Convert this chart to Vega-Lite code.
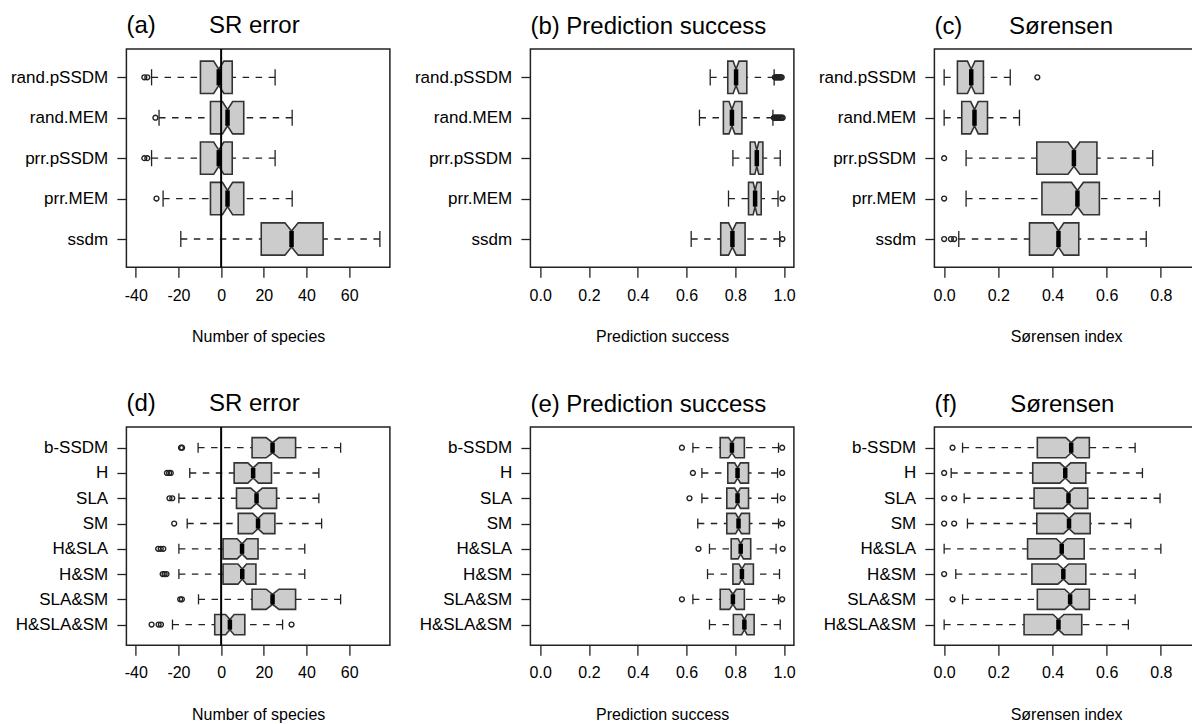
{
"$schema": "https://vega.github.io/schema/vega-lite/v6.json",
"background": "white",
"padding": {"left": 9.4, "top": 13, "right": -6, "bottom": 0},
"columns": 3,
"spacing": {"row": 159, "column": 140},
"bounds": "flush",
"datasets": {
"boxes": [
{"panel":"a","name":"rand.pSSDM","idx":5,"lo":-32.6,"q1":-9.7,"nlo":-3.5,"med":-1.1,"nhi":1.3,"q3":5.2,"hi":25.3},
{"panel":"a","name":"rand.MEM","idx":4,"lo":-29.1,"q1":-5.0,"nlo":0.6,"med":3.0,"nhi":5.4,"q3":10.6,"hi":33.3},
{"panel":"a","name":"prr.pSSDM","idx":3,"lo":-32.6,"q1":-9.7,"nlo":-3.5,"med":-1.1,"nhi":1.3,"q3":5.2,"hi":25.3},
{"panel":"a","name":"prr.MEM","idx":2,"lo":-27.2,"q1":-5.0,"nlo":0.6,"med":3.0,"nhi":5.4,"q3":10.6,"hi":33.3},
{"panel":"a","name":"ssdm","idx":1,"lo":-18.9,"q1":18.8,"nlo":29.9,"med":33.0,"nhi":36.1,"q3":47.8,"hi":74.4},
{"panel":"b","name":"rand.pSSDM","idx":5,"lo":0.697,"q1":0.769,"nlo":0.791,"med":0.803,"nhi":0.815,"q3":0.847,"hi":0.959},
{"panel":"b","name":"rand.MEM","idx":4,"lo":0.653,"q1":0.751,"nlo":0.774,"med":0.786,"nhi":0.798,"q3":0.827,"hi":0.954},
{"panel":"b","name":"prr.pSSDM","idx":3,"lo":0.790,"q1":0.861,"nlo":0.880,"med":0.888,"nhi":0.896,"q3":0.913,"hi":0.984},
{"panel":"b","name":"prr.MEM","idx":2,"lo":0.772,"q1":0.854,"nlo":0.873,"med":0.881,"nhi":0.889,"q3":0.906,"hi":0.975},
{"panel":"b","name":"ssdm","idx":1,"lo":0.619,"q1":0.740,"nlo":0.772,"med":0.788,"nhi":0.804,"q3":0.840,"hi":0.982},
{"panel":"c","name":"rand.pSSDM","idx":5,"lo":0.0,"q1":0.049,"nlo":0.086,"med":0.100,"nhi":0.114,"q3":0.145,"hi":0.244},
{"panel":"c","name":"rand.MEM","idx":4,"lo":0.0,"q1":0.065,"nlo":0.098,"med":0.112,"nhi":0.126,"q3":0.160,"hi":0.278},
{"panel":"c","name":"prr.pSSDM","idx":3,"lo":0.081,"q1":0.342,"nlo":0.457,"med":0.479,"nhi":0.501,"q3":0.564,"hi":0.770},
{"panel":"c","name":"prr.MEM","idx":2,"lo":0.081,"q1":0.361,"nlo":0.470,"med":0.492,"nhi":0.514,"q3":0.573,"hi":0.795},
{"panel":"c","name":"ssdm","idx":1,"lo":0.054,"q1":0.315,"nlo":0.402,"med":0.422,"nhi":0.442,"q3":0.497,"hi":0.746},
{"panel":"d","name":"b-SSDM","idx":8,"lo":-10.8,"q1":14.5,"nlo":21.1,"med":24.1,"nhi":27.1,"q3":34.9,"hi":56.0},
{"panel":"d","name":"H","idx":7,"lo":-14.7,"q1":6.1,"nlo":12.5,"med":15.0,"nhi":17.5,"q3":23.6,"hi":45.8},
{"panel":"d","name":"SLA","idx":6,"lo":-19.8,"q1":7.2,"nlo":13.9,"med":16.6,"nhi":19.3,"q3":26.0,"hi":45.8},
{"panel":"d","name":"SM","idx":5,"lo":-15.9,"q1":8.0,"nlo":14.8,"med":17.3,"nhi":19.8,"q3":25.2,"hi":47.1},
{"panel":"d","name":"H&SLA","idx":4,"lo":-19.8,"q1":0.9,"nlo":7.5,"med":9.8,"nhi":12.1,"q3":17.3,"hi":39.2},
{"panel":"d","name":"H&SM","idx":3,"lo":-19.8,"q1":0.9,"nlo":7.9,"med":9.9,"nhi":11.9,"q3":16.3,"hi":39.2},
{"panel":"d","name":"SLA&SM","idx":2,"lo":-10.6,"q1":14.5,"nlo":21.1,"med":24.1,"nhi":27.1,"q3":34.9,"hi":56.0},
{"panel":"d","name":"H&SLA&SM","idx":1,"lo":-22.8,"q1":-3.0,"nlo":2.1,"med":4.1,"nhi":6.1,"q3":11.1,"hi":28.8},
{"panel":"e","name":"b-SSDM","idx":8,"lo":0.626,"q1":0.738,"nlo":0.772,"med":0.786,"nhi":0.800,"q3":0.837,"hi":0.977},
{"panel":"e","name":"H","idx":7,"lo":0.663,"q1":0.769,"nlo":0.797,"med":0.809,"nhi":0.821,"q3":0.854,"hi":0.973},
{"panel":"e","name":"SLA","idx":6,"lo":0.663,"q1":0.765,"nlo":0.797,"med":0.809,"nhi":0.821,"q3":0.854,"hi":0.973},
{"panel":"e","name":"SM","idx":5,"lo":0.646,"q1":0.765,"nlo":0.801,"med":0.813,"nhi":0.825,"q3":0.858,"hi":0.977},
{"panel":"e","name":"H&SLA","idx":4,"lo":0.694,"q1":0.783,"nlo":0.811,"med":0.822,"nhi":0.833,"q3":0.863,"hi":0.967},
{"panel":"e","name":"H&SM","idx":3,"lo":0.686,"q1":0.790,"nlo":0.815,"med":0.827,"nhi":0.839,"q3":0.874,"hi":0.981},
{"panel":"e","name":"SLA&SM","idx":2,"lo":0.626,"q1":0.738,"nlo":0.776,"med":0.790,"nhi":0.804,"q3":0.837,"hi":0.977},
{"panel":"e","name":"H&SLA&SM","idx":1,"lo":0.694,"q1":0.792,"nlo":0.826,"med":0.837,"nhi":0.848,"q3":0.877,"hi":0.984},
{"panel":"f","name":"b-SSDM","idx":8,"lo":0.068,"q1":0.344,"nlo":0.449,"med":0.469,"nhi":0.489,"q3":0.536,"hi":0.705},
{"panel":"f","name":"H","idx":7,"lo":0.026,"q1":0.327,"nlo":0.427,"med":0.447,"nhi":0.467,"q3":0.523,"hi":0.732},
{"panel":"f","name":"SLA","idx":6,"lo":0.074,"q1":0.332,"nlo":0.439,"med":0.459,"nhi":0.479,"q3":0.530,"hi":0.797},
{"panel":"f","name":"SM","idx":5,"lo":0.086,"q1":0.342,"nlo":0.441,"med":0.461,"nhi":0.481,"q3":0.539,"hi":0.689},
{"panel":"f","name":"H&SLA","idx":4,"lo":0.0,"q1":0.308,"nlo":0.414,"med":0.434,"nhi":0.454,"q3":0.517,"hi":0.800},
{"panel":"f","name":"H&SM","idx":3,"lo":0.043,"q1":0.324,"nlo":0.420,"med":0.440,"nhi":0.460,"q3":0.523,"hi":0.705},
{"panel":"f","name":"SLA&SM","idx":2,"lo":0.068,"q1":0.344,"nlo":0.445,"med":0.465,"nhi":0.485,"q3":0.536,"hi":0.705},
{"panel":"f","name":"H&SLA&SM","idx":1,"lo":0.0,"q1":0.295,"nlo":0.402,"med":0.422,"nhi":0.442,"q3":0.508,"hi":0.680}
],
"outliers": [
{"panel":"a","idx":5,"v":-36.0},{"panel":"a","idx":5,"v":-34.6},{"panel":"a","idx":4,"v":-30.8},
{"panel":"a","idx":3,"v":-36.0},{"panel":"a","idx":3,"v":-34.6},{"panel":"a","idx":2,"v":-30.3},
{"panel":"b","idx":5,"v":0.962},{"panel":"b","idx":5,"v":0.966},{"panel":"b","idx":5,"v":0.970},{"panel":"b","idx":5,"v":0.974},{"panel":"b","idx":5,"v":0.978},{"panel":"b","idx":5,"v":0.982},{"panel":"b","idx":5,"v":0.986},{"panel":"b","idx":5,"v":0.990},
{"panel":"b","idx":4,"v":0.958},{"panel":"b","idx":4,"v":0.962},{"panel":"b","idx":4,"v":0.966},{"panel":"b","idx":4,"v":0.970},{"panel":"b","idx":4,"v":0.974},{"panel":"b","idx":4,"v":0.978},{"panel":"b","idx":4,"v":0.982},{"panel":"b","idx":4,"v":0.986},{"panel":"b","idx":4,"v":0.990},{"panel":"b","idx":4,"v":0.994},
{"panel":"b","idx":2,"v":0.993},{"panel":"b","idx":1,"v":0.993},
{"panel":"c","idx":5,"v":0.344},{"panel":"c","idx":3,"v":0.0},{"panel":"c","idx":2,"v":0.0},
{"panel":"c","idx":1,"v":0.0},{"panel":"c","idx":1,"v":0.025},{"panel":"c","idx":1,"v":0.037},
{"panel":"d","idx":8,"v":-18.8},{"panel":"d","idx":8,"v":-18.3},
{"panel":"d","idx":7,"v":-25.4},{"panel":"d","idx":7,"v":-24.4},{"panel":"d","idx":7,"v":-23.6},
{"panel":"d","idx":6,"v":-24.2},{"panel":"d","idx":6,"v":-22.9},
{"panel":"d","idx":5,"v":-22.0},
{"panel":"d","idx":4,"v":-29.5},{"panel":"d","idx":4,"v":-28.3},{"panel":"d","idx":4,"v":-27.1},
{"panel":"d","idx":3,"v":-27.4},{"panel":"d","idx":3,"v":-26.5},{"panel":"d","idx":3,"v":-25.6},
{"panel":"d","idx":2,"v":-19.2},{"panel":"d","idx":2,"v":-18.4},
{"panel":"d","idx":1,"v":-32.6},{"panel":"d","idx":1,"v":-29.3},{"panel":"d","idx":1,"v":-28.2},{"panel":"d","idx":1,"v":33.0},
{"panel":"e","idx":8,"v":0.581},{"panel":"e","idx":8,"v":0.992},
{"panel":"e","idx":7,"v":0.626},{"panel":"e","idx":7,"v":0.992},
{"panel":"e","idx":6,"v":0.612},{"panel":"e","idx":6,"v":0.994},
{"panel":"e","idx":5,"v":0.992},
{"panel":"e","idx":4,"v":0.649},{"panel":"e","idx":4,"v":0.994},
{"panel":"e","idx":2,"v":0.581},{"panel":"e","idx":2,"v":0.992},
{"panel":"f","idx":8,"v":0.031},{"panel":"f","idx":7,"v":0.0},
{"panel":"f","idx":6,"v":0.0},{"panel":"f","idx":6,"v":0.037},
{"panel":"f","idx":5,"v":0.0},{"panel":"f","idx":5,"v":0.037},
{"panel":"f","idx":3,"v":0.0},{"panel":"f","idx":2,"v":0.031}
]
},
"concat": [
{
"width": 263.5, "height": 218.3,
"title": {"text": "(a)\u00a0\u00a0\u00a0\u00a0\u00a0\u00a0\u00a0\u00a0SR error"},
"data": {"name": "boxes"},
"transform": [{"filter": "datum.panel == 'a'"}, {"calculate": "datum.idx - 0.2", "as": "ya"}, {"calculate": "datum.idx + 0.2", "as": "yb"}],
"layer": [
{"mark": {"type": "rule", "color": "#222", "strokeWidth": 1.3, "strokeDash": [6.5, 6.5]},
 "encoding": {
  "x": {"field": "lo", "type": "quantitative", "scale": {"domain": [-44.4, 79.1], "nice": false, "zero": false}, "axis": {"values": [-40, -20, 0, 20, 40, 60], "tickCount": 20, "labelExpr": "'' + datum.value", "title": "Number of species"}},
  "x2": {"field": "q1"},
  "y": {"field": "idx", "type": "quantitative", "scale": {"domain": [0.3, 5.7], "nice": false, "zero": false}, "axis": {"values": [1, 2, 3, 4, 5], "tickCount": 20, "labelExpr": "['','ssdm','prr.MEM','prr.pSSDM','rand.MEM','rand.pSSDM'][datum.value]", "title": null}}}},
{"mark": {"type": "rule", "color": "#222", "strokeWidth": 1.3, "strokeDash": [6.5, 6.5]},
 "encoding": {"x": {"field": "hi", "type": "quantitative"}, "x2": {"field": "q3"}, "y": {"field": "idx", "type": "quantitative"}}},
{"mark": {"type": "rule", "color": "#222", "strokeWidth": 1.3},
 "encoding": {"x": {"field": "lo", "type": "quantitative"}, "y": {"field": "ya", "type": "quantitative"}, "y2": {"field": "yb"}}},
{"mark": {"type": "rule", "color": "#222", "strokeWidth": 1.3},
 "encoding": {"x": {"field": "hi", "type": "quantitative"}, "y": {"field": "ya", "type": "quantitative"}, "y2": {"field": "yb"}}},
{"transform": [{"fold": ["q1", "nlo", "med", "nhi", "q3"], "as": ["stat", "val"]}, {"calculate": "datum.stat == 'med' ? datum.idx + 0.2 : datum.idx + 0.4", "as": "ytop"}, {"calculate": "datum.stat == 'med' ? datum.idx - 0.2 : datum.idx - 0.4", "as": "ybot"}],
 "mark": {"type": "area", "orient": "vertical", "fill": "#cccccc", "stroke": "#333333", "strokeWidth": 1.6},
 "encoding": {"x": {"field": "val", "type": "quantitative"}, "y": {"field": "ytop", "type": "quantitative"}, "y2": {"field": "ybot"}, "detail": {"field": "name"}}},
{"mark": {"type": "rule", "color": "#000", "strokeWidth": 4.5},
 "encoding": {"x": {"field": "med", "type": "quantitative"}, "y": {"field": "ya", "type": "quantitative"}, "y2": {"field": "yb"}}},
{"data": {"name": "outliers"}, "transform": [{"filter": "datum.panel == 'a'"}],
 "mark": {"type": "point", "shape": "circle", "filled": false, "size": 24, "stroke": "#222", "strokeWidth": 1.35, "opacity": 1},
 "encoding": {"x": {"field": "v", "type": "quantitative"}, "y": {"field": "idx", "type": "quantitative"}}},
{"data": {"values": [{}]}, "mark": {"type": "rule", "color": "#000", "strokeWidth": 2}, "encoding": {"x": {"datum": 0}}}
]
},
{
"width": 263.5, "height": 218.3,
"title": {"text": "(b) Prediction success"},
"data": {"name": "boxes"},
"transform": [{"filter": "datum.panel == 'b'"}, {"calculate": "datum.idx - 0.2", "as": "ya"}, {"calculate": "datum.idx + 0.2", "as": "yb"}],
"layer": [
{"mark": {"type": "rule", "color": "#222", "strokeWidth": 1.3, "strokeDash": [6.5, 6.5]},
 "encoding": {
  "x": {"field": "lo", "type": "quantitative", "scale": {"domain": [-0.04, 1.04], "nice": false, "zero": false}, "axis": {"values": [0, 0.2, 0.4, 0.6, 0.8, 1.0], "tickCount": 20, "labelExpr": "format(datum.value, '.1f')", "title": "Prediction success"}},
  "x2": {"field": "q1"},
  "y": {"field": "idx", "type": "quantitative", "scale": {"domain": [0.3, 5.7], "nice": false, "zero": false}, "axis": {"values": [1, 2, 3, 4, 5], "tickCount": 20, "labelExpr": "['','ssdm','prr.MEM','prr.pSSDM','rand.MEM','rand.pSSDM'][datum.value]", "title": null}}}},
{"mark": {"type": "rule", "color": "#222", "strokeWidth": 1.3, "strokeDash": [6.5, 6.5]},
 "encoding": {"x": {"field": "hi", "type": "quantitative"}, "x2": {"field": "q3"}, "y": {"field": "idx", "type": "quantitative"}}},
{"mark": {"type": "rule", "color": "#222", "strokeWidth": 1.3},
 "encoding": {"x": {"field": "lo", "type": "quantitative"}, "y": {"field": "ya", "type": "quantitative"}, "y2": {"field": "yb"}}},
{"mark": {"type": "rule", "color": "#222", "strokeWidth": 1.3},
 "encoding": {"x": {"field": "hi", "type": "quantitative"}, "y": {"field": "ya", "type": "quantitative"}, "y2": {"field": "yb"}}},
{"transform": [{"fold": ["q1", "nlo", "med", "nhi", "q3"], "as": ["stat", "val"]}, {"calculate": "datum.stat == 'med' ? datum.idx + 0.2 : datum.idx + 0.4", "as": "ytop"}, {"calculate": "datum.stat == 'med' ? datum.idx - 0.2 : datum.idx - 0.4", "as": "ybot"}],
 "mark": {"type": "area", "orient": "vertical", "fill": "#cccccc", "stroke": "#333333", "strokeWidth": 1.6},
 "encoding": {"x": {"field": "val", "type": "quantitative"}, "y": {"field": "ytop", "type": "quantitative"}, "y2": {"field": "ybot"}, "detail": {"field": "name"}}},
{"mark": {"type": "rule", "color": "#000", "strokeWidth": 4.5},
 "encoding": {"x": {"field": "med", "type": "quantitative"}, "y": {"field": "ya", "type": "quantitative"}, "y2": {"field": "yb"}}},
{"data": {"name": "outliers"}, "transform": [{"filter": "datum.panel == 'b'"}],
 "mark": {"type": "point", "shape": "circle", "filled": false, "size": 24, "stroke": "#222", "strokeWidth": 1.35, "opacity": 1},
 "encoding": {"x": {"field": "v", "type": "quantitative"}, "y": {"field": "idx", "type": "quantitative"}}}
]
},
{
"width": 263.5, "height": 218.3,
"title": {"text": "(c)\u00a0\u00a0\u00a0\u00a0\u00a0\u00a0\u00a0Sørensen"},
"data": {"name": "boxes"},
"transform": [{"filter": "datum.panel == 'c'"}, {"calculate": "datum.idx - 0.2", "as": "ya"}, {"calculate": "datum.idx + 0.2", "as": "yb"}],
"layer": [
{"mark": {"type": "rule", "color": "#222", "strokeWidth": 1.3, "strokeDash": [6.5, 6.5]},
 "encoding": {
  "x": {"field": "lo", "type": "quantitative", "scale": {"domain": [-0.036, 0.9367], "nice": false, "zero": false}, "axis": {"values": [0, 0.2, 0.4, 0.6, 0.8], "tickCount": 20, "labelExpr": "format(datum.value, '.1f')", "title": "Sørensen index"}},
  "x2": {"field": "q1"},
  "y": {"field": "idx", "type": "quantitative", "scale": {"domain": [0.3, 5.7], "nice": false, "zero": false}, "axis": {"values": [1, 2, 3, 4, 5], "tickCount": 20, "labelExpr": "['','ssdm','prr.MEM','prr.pSSDM','rand.MEM','rand.pSSDM'][datum.value]", "title": null}}}},
{"mark": {"type": "rule", "color": "#222", "strokeWidth": 1.3, "strokeDash": [6.5, 6.5]},
 "encoding": {"x": {"field": "hi", "type": "quantitative"}, "x2": {"field": "q3"}, "y": {"field": "idx", "type": "quantitative"}}},
{"mark": {"type": "rule", "color": "#222", "strokeWidth": 1.3},
 "encoding": {"x": {"field": "lo", "type": "quantitative"}, "y": {"field": "ya", "type": "quantitative"}, "y2": {"field": "yb"}}},
{"mark": {"type": "rule", "color": "#222", "strokeWidth": 1.3},
 "encoding": {"x": {"field": "hi", "type": "quantitative"}, "y": {"field": "ya", "type": "quantitative"}, "y2": {"field": "yb"}}},
{"transform": [{"fold": ["q1", "nlo", "med", "nhi", "q3"], "as": ["stat", "val"]}, {"calculate": "datum.stat == 'med' ? datum.idx + 0.2 : datum.idx + 0.4", "as": "ytop"}, {"calculate": "datum.stat == 'med' ? datum.idx - 0.2 : datum.idx - 0.4", "as": "ybot"}],
 "mark": {"type": "area", "orient": "vertical", "fill": "#cccccc", "stroke": "#333333", "strokeWidth": 1.6},
 "encoding": {"x": {"field": "val", "type": "quantitative"}, "y": {"field": "ytop", "type": "quantitative"}, "y2": {"field": "ybot"}, "detail": {"field": "name"}}},
{"mark": {"type": "rule", "color": "#000", "strokeWidth": 4.5},
 "encoding": {"x": {"field": "med", "type": "quantitative"}, "y": {"field": "ya", "type": "quantitative"}, "y2": {"field": "yb"}}},
{"data": {"name": "outliers"}, "transform": [{"filter": "datum.panel == 'c'"}],
 "mark": {"type": "point", "shape": "circle", "filled": false, "size": 24, "stroke": "#222", "strokeWidth": 1.35, "opacity": 1},
 "encoding": {"x": {"field": "v", "type": "quantitative"}, "y": {"field": "idx", "type": "quantitative"}}}
]
},
{
"width": 263.5, "height": 218.3,
"title": {"text": "(d)\u00a0\u00a0\u00a0\u00a0\u00a0\u00a0\u00a0\u00a0SR error"},
"data": {"name": "boxes"},
"transform": [{"filter": "datum.panel == 'd'"}, {"calculate": "datum.idx - 0.2", "as": "ya"}, {"calculate": "datum.idx + 0.2", "as": "yb"}],
"layer": [
{"mark": {"type": "rule", "color": "#222", "strokeWidth": 1.3, "strokeDash": [6.5, 6.5]},
 "encoding": {
  "x": {"field": "lo", "type": "quantitative", "scale": {"domain": [-44.4, 79.1], "nice": false, "zero": false}, "axis": {"values": [-40, -20, 0, 20, 40, 60], "tickCount": 20, "labelExpr": "'' + datum.value", "title": "Number of species"}},
  "x2": {"field": "q1"},
  "y": {"field": "idx", "type": "quantitative", "scale": {"domain": [0.18, 8.82], "nice": false, "zero": false}, "axis": {"values": [1, 2, 3, 4, 5, 6, 7, 8], "tickCount": 20, "labelExpr": "['','H&SLA&SM','SLA&SM','H&SM','H&SLA','SM','SLA','H','b-SSDM'][datum.value]", "title": null}}}},
{"mark": {"type": "rule", "color": "#222", "strokeWidth": 1.3, "strokeDash": [6.5, 6.5]},
 "encoding": {"x": {"field": "hi", "type": "quantitative"}, "x2": {"field": "q3"}, "y": {"field": "idx", "type": "quantitative"}}},
{"mark": {"type": "rule", "color": "#222", "strokeWidth": 1.3},
 "encoding": {"x": {"field": "lo", "type": "quantitative"}, "y": {"field": "ya", "type": "quantitative"}, "y2": {"field": "yb"}}},
{"mark": {"type": "rule", "color": "#222", "strokeWidth": 1.3},
 "encoding": {"x": {"field": "hi", "type": "quantitative"}, "y": {"field": "ya", "type": "quantitative"}, "y2": {"field": "yb"}}},
{"transform": [{"fold": ["q1", "nlo", "med", "nhi", "q3"], "as": ["stat", "val"]}, {"calculate": "datum.stat == 'med' ? datum.idx + 0.2 : datum.idx + 0.4", "as": "ytop"}, {"calculate": "datum.stat == 'med' ? datum.idx - 0.2 : datum.idx - 0.4", "as": "ybot"}],
 "mark": {"type": "area", "orient": "vertical", "fill": "#cccccc", "stroke": "#333333", "strokeWidth": 1.6},
 "encoding": {"x": {"field": "val", "type": "quantitative"}, "y": {"field": "ytop", "type": "quantitative"}, "y2": {"field": "ybot"}, "detail": {"field": "name"}}},
{"mark": {"type": "rule", "color": "#000", "strokeWidth": 4.5},
 "encoding": {"x": {"field": "med", "type": "quantitative"}, "y": {"field": "ya", "type": "quantitative"}, "y2": {"field": "yb"}}},
{"data": {"name": "outliers"}, "transform": [{"filter": "datum.panel == 'd'"}],
 "mark": {"type": "point", "shape": "circle", "filled": false, "size": 24, "stroke": "#222", "strokeWidth": 1.35, "opacity": 1},
 "encoding": {"x": {"field": "v", "type": "quantitative"}, "y": {"field": "idx", "type": "quantitative"}}},
{"data": {"values": [{}]}, "mark": {"type": "rule", "color": "#000", "strokeWidth": 2}, "encoding": {"x": {"datum": 0}}}
]
},
{
"width": 263.5, "height": 218.3,
"title": {"text": "(e) Prediction success"},
"data": {"name": "boxes"},
"transform": [{"filter": "datum.panel == 'e'"}, {"calculate": "datum.idx - 0.2", "as": "ya"}, {"calculate": "datum.idx + 0.2", "as": "yb"}],
"layer": [
{"mark": {"type": "rule", "color": "#222", "strokeWidth": 1.3, "strokeDash": [6.5, 6.5]},
 "encoding": {
  "x": {"field": "lo", "type": "quantitative", "scale": {"domain": [-0.04, 1.04], "nice": false, "zero": false}, "axis": {"values": [0, 0.2, 0.4, 0.6, 0.8, 1.0], "tickCount": 20, "labelExpr": "format(datum.value, '.1f')", "title": "Prediction success"}},
  "x2": {"field": "q1"},
  "y": {"field": "idx", "type": "quantitative", "scale": {"domain": [0.18, 8.82], "nice": false, "zero": false}, "axis": {"values": [1, 2, 3, 4, 5, 6, 7, 8], "tickCount": 20, "labelExpr": "['','H&SLA&SM','SLA&SM','H&SM','H&SLA','SM','SLA','H','b-SSDM'][datum.value]", "title": null}}}},
{"mark": {"type": "rule", "color": "#222", "strokeWidth": 1.3, "strokeDash": [6.5, 6.5]},
 "encoding": {"x": {"field": "hi", "type": "quantitative"}, "x2": {"field": "q3"}, "y": {"field": "idx", "type": "quantitative"}}},
{"mark": {"type": "rule", "color": "#222", "strokeWidth": 1.3},
 "encoding": {"x": {"field": "lo", "type": "quantitative"}, "y": {"field": "ya", "type": "quantitative"}, "y2": {"field": "yb"}}},
{"mark": {"type": "rule", "color": "#222", "strokeWidth": 1.3},
 "encoding": {"x": {"field": "hi", "type": "quantitative"}, "y": {"field": "ya", "type": "quantitative"}, "y2": {"field": "yb"}}},
{"transform": [{"fold": ["q1", "nlo", "med", "nhi", "q3"], "as": ["stat", "val"]}, {"calculate": "datum.stat == 'med' ? datum.idx + 0.2 : datum.idx + 0.4", "as": "ytop"}, {"calculate": "datum.stat == 'med' ? datum.idx - 0.2 : datum.idx - 0.4", "as": "ybot"}],
 "mark": {"type": "area", "orient": "vertical", "fill": "#cccccc", "stroke": "#333333", "strokeWidth": 1.6},
 "encoding": {"x": {"field": "val", "type": "quantitative"}, "y": {"field": "ytop", "type": "quantitative"}, "y2": {"field": "ybot"}, "detail": {"field": "name"}}},
{"mark": {"type": "rule", "color": "#000", "strokeWidth": 4.5},
 "encoding": {"x": {"field": "med", "type": "quantitative"}, "y": {"field": "ya", "type": "quantitative"}, "y2": {"field": "yb"}}},
{"data": {"name": "outliers"}, "transform": [{"filter": "datum.panel == 'e'"}],
 "mark": {"type": "point", "shape": "circle", "filled": false, "size": 24, "stroke": "#222", "strokeWidth": 1.35, "opacity": 1},
 "encoding": {"x": {"field": "v", "type": "quantitative"}, "y": {"field": "idx", "type": "quantitative"}}}
]
},
{
"width": 263.5, "height": 218.3,
"title": {"text": "(f)\u00a0\u00a0\u00a0\u00a0\u00a0\u00a0\u00a0\u00a0Sørensen"},
"data": {"name": "boxes"},
"transform": [{"filter": "datum.panel == 'f'"}, {"calculate": "datum.idx - 0.2", "as": "ya"}, {"calculate": "datum.idx + 0.2", "as": "yb"}],
"layer": [
{"mark": {"type": "rule", "color": "#222", "strokeWidth": 1.3, "strokeDash": [6.5, 6.5]},
 "encoding": {
  "x": {"field": "lo", "type": "quantitative", "scale": {"domain": [-0.036, 0.9367], "nice": false, "zero": false}, "axis": {"values": [0, 0.2, 0.4, 0.6, 0.8], "tickCount": 20, "labelExpr": "format(datum.value, '.1f')", "title": "Sørensen index"}},
  "x2": {"field": "q1"},
  "y": {"field": "idx", "type": "quantitative", "scale": {"domain": [0.18, 8.82], "nice": false, "zero": false}, "axis": {"values": [1, 2, 3, 4, 5, 6, 7, 8], "tickCount": 20, "labelExpr": "['','H&SLA&SM','SLA&SM','H&SM','H&SLA','SM','SLA','H','b-SSDM'][datum.value]", "title": null}}}},
{"mark": {"type": "rule", "color": "#222", "strokeWidth": 1.3, "strokeDash": [6.5, 6.5]},
 "encoding": {"x": {"field": "hi", "type": "quantitative"}, "x2": {"field": "q3"}, "y": {"field": "idx", "type": "quantitative"}}},
{"mark": {"type": "rule", "color": "#222", "strokeWidth": 1.3},
 "encoding": {"x": {"field": "lo", "type": "quantitative"}, "y": {"field": "ya", "type": "quantitative"}, "y2": {"field": "yb"}}},
{"mark": {"type": "rule", "color": "#222", "strokeWidth": 1.3},
 "encoding": {"x": {"field": "hi", "type": "quantitative"}, "y": {"field": "ya", "type": "quantitative"}, "y2": {"field": "yb"}}},
{"transform": [{"fold": ["q1", "nlo", "med", "nhi", "q3"], "as": ["stat", "val"]}, {"calculate": "datum.stat == 'med' ? datum.idx + 0.2 : datum.idx + 0.4", "as": "ytop"}, {"calculate": "datum.stat == 'med' ? datum.idx - 0.2 : datum.idx - 0.4", "as": "ybot"}],
 "mark": {"type": "area", "orient": "vertical", "fill": "#cccccc", "stroke": "#333333", "strokeWidth": 1.6},
 "encoding": {"x": {"field": "val", "type": "quantitative"}, "y": {"field": "ytop", "type": "quantitative"}, "y2": {"field": "ybot"}, "detail": {"field": "name"}}},
{"mark": {"type": "rule", "color": "#000", "strokeWidth": 4.5},
 "encoding": {"x": {"field": "med", "type": "quantitative"}, "y": {"field": "ya", "type": "quantitative"}, "y2": {"field": "yb"}}},
{"data": {"name": "outliers"}, "transform": [{"filter": "datum.panel == 'f'"}],
 "mark": {"type": "point", "shape": "circle", "filled": false, "size": 24, "stroke": "#222", "strokeWidth": 1.35, "opacity": 1},
 "encoding": {"x": {"field": "v", "type": "quantitative"}, "y": {"field": "idx", "type": "quantitative"}}}
]
}
],
"config": {
"font": "Liberation Sans",
"view": {"stroke": "#222", "strokeWidth": 1.5},
"axis": {"grid": false, "domain": false, "ticks": true, "tickColor": "#222", "tickWidth": 1.3, "labelColor": "#000", "labelFont": "Liberation Sans", "titleFont": "Liberation Sans", "titleFontWeight": "normal", "titleColor": "#000", "labelOverlap": false, "labelFlush": false},
"axisX": {"tickSize": 10, "labelFontSize": 16, "labelBaseline": "alphabetic", "labelPadding": 22.7, "titleFontSize": 16, "titleBaseline": "alphabetic", "titleY": 74.5},
"axisY": {"tickSize": 9.5, "labelFontSize": 17, "labelPadding": 9.2},
"title": {"font": "Liberation Sans", "fontSize": 24, "fontWeight": "normal", "anchor": "start", "frame": "group", "baseline": "alphabetic", "offset": 9.7, "color": "#000"}
}
}
